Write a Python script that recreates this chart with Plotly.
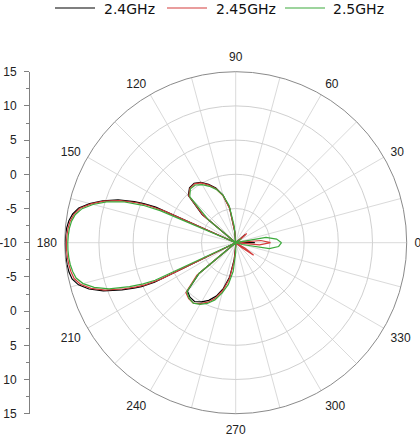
import plotly.graph_objects as go

THETA = [0, 5, 10, 15, 20, 25, 30, 35, 40, 45,
         50, 55, 60, 65, 70, 75, 80, 85, 90, 95,
         100, 105, 110, 115, 120, 125, 130, 135, 140, 145, 150,
         155, 156, 157, 158,
         160, 162.5, 165, 167.5, 170, 172.5, 175, 177.5, 180, 182.5,
         185, 187.5, 190, 192.5, 195, 197.5, 200,
         202.5, 204, 205, 206, 208,
         210, 215, 220, 225, 230, 235, 240, 245, 250, 255, 260, 265, 270, 275,
         280, 285, 290, 295, 300, 305, 310, 315,
         320, 325, 330, 335, 340, 345, 350, 355, 360]

# gain in dB, -10 = centre of the plot
GAIN_24 = [-7.2, -9.3, -10, -10, -10, -10, -10, -9.5, -8.2, -10,
           -10, -10, -10, -10, -10, -10, -10, -10, -10, -8.3,
           -4.8, -2.8, -1.5, -0.6, 0.2, 0.6, 0.5, -0.2, -3.6, -10, -10,
           -10, 2.8, 4.6, 6.0,
           8.3, 10.4, 12.1, 13.5, 14.2, 14.6, 14.8, 14.9, 14.95, 14.95,
           14.9, 14.85, 14.75, 14.5, 13.8, 12.5, 10.6,
           8.0, 6.3, 5.2, 3.2, -10,
           -10, -10, -3.0, 0.0, 0.4, 0.5, 0.0, -0.7, -1.7, -3.1, -4.9, -7.6, -9.6, -10,
           -10, -10, -10, -10, -10, -10, -10, -10,
           -10, -8.7, -10, -10, -10, -10, -10, -9.6, -7.2]

GAIN_245 = [-4.9, -6.3, -10, -10, -10, -10, -10, -9.3, -7.9, -10,
            -10, -10, -10, -10, -10, -10, -10, -10, -10, -8.4,
            -4.9, -2.9, -1.6, -0.7, 0.1, 0.5, 0.4, -0.3, -3.8, -10, -10,
            -10, 1.5, 4.0, 5.6,
            8.0, 10.2, 11.9, 13.3, 14.0, 14.4, 14.6, 14.7, 14.75, 14.75,
            14.7, 14.6, 14.45, 14.2, 13.5, 12.2, 10.3,
            7.6, 5.9, 4.6, 2.2, -10,
            -10, -10, -2.6, 0.3, 0.7, 0.8, 0.3, -0.4, -1.4, -2.8, -4.6, -7.3, -9.5, -10,
            -10, -10, -10, -10, -10, -10, -10, -10,
            -9.0, -6.8, -8.4, -10, -10, -10, -10, -6.5, -4.9]

GAIN_25 = [-3.3, -4.0, -5.5, -10, -10, -10, -10, -9.0, -9.6, -10,
           -10, -10, -10, -10, -10, -10, -10, -10, -10, -7.6,
           -4.5, -2.8, -1.7, -0.9, -0.2, 0.3, 0.3, -0.5, -4.8, -10, -10,
           -10, -10, 2.0, 4.6,
           7.5, 9.8, 11.6, 13.0, 13.8, 14.2, 14.4, 14.5, 14.55, 14.55,
           14.5, 14.4, 14.2, 13.9, 13.1, 11.7, 9.7,
           6.8, 4.8, 3.0, -10, -10,
           -10, -10, -3.0, 0.1, 0.6, 0.8, 0.4, -0.2, -1.1, -2.4, -3.8, -5.8, -8.6, -10,
           -10, -10, -10, -10, -10, -10, -10, -10,
           -10, -10, -10, -10, -10, -9.0, -5.0, -3.7, -3.3]

SERIES = ["2.4GHz", "2.45GHz", "2.5GHz"]
COLORS = ["#000000", "#d43c3c", "#3caa3c"]

ANGLE_TICKS = list(range(0, 360, 15))
ANGLE_LABELS = [str(a) if a % 30 == 0 else "" for a in ANGLE_TICKS]
RADIAL_GRID = [-5, 0, 5, 10]

# left scale mirrors the radius: top/bottom = 15, middle = -10
LEFT_TICKS = [25, 20, 15, 10, 5, 0, -5, -10, -15, -20, -25]
LEFT_LABELS = ["15", "10", "5", "0", "-5", "-10", "-5", "0", "5", "10", "15"]

W, H = 420, 438
cx, cy, rad = 235.7, 242.7, 171.0   # pixel centre / radius of the polar circle
px0, px1 = (cx - rad) / W, (cx + rad) / W
py0, py1 = (H - cy - rad) / H, (H - cy + rad) / H

fig = go.Figure()
for name, gain, col in zip(SERIES, [GAIN_24, GAIN_245, GAIN_25], COLORS):
    fig.add_trace(go.Scatterpolar(theta=THETA, r=gain, mode="lines", name=name,
                                  showlegend=False,
                                  line=dict(color=col, width=1.2)))

# empty trace just so the cartesian scale on the left gets drawn
fig.add_trace(go.Scatter(x=[None], y=[None], showlegend=False, hoverinfo="skip"))

# legend drawn by hand across the top (line sample + label)
leg_line_x = [55, 167, 285]
leg_text_x = [102, 214, 331]
for i, name in enumerate(SERIES):
    fig.add_shape(type="line", xref="paper", yref="paper",
                  x0=leg_line_x[i] / W, x1=(leg_line_x[i] + 40) / W,
                  y0=1 - 8 / H, y1=1 - 8 / H,
                  line=dict(color=COLORS[i], width=1.2))
    fig.add_annotation(text=name, xref="paper", yref="paper",
                       x=leg_text_x[i] / W, y=1 - 9 / H,
                       xanchor="left", yanchor="middle", showarrow=False,
                       font=dict(family="DejaVu Sans", size=14, color="#111"))

fig.update_layout(
    width=W, height=H,
    margin=dict(l=0, r=0, t=0, b=0, autoexpand=False),
    paper_bgcolor="white", plot_bgcolor="white",
    font=dict(family="Liberation Sans, Arial", size=12, color="#222"),
    polar=dict(
        domain=dict(x=[px0, px1], y=[py0, py1]),
        bgcolor="white",
        radialaxis=dict(range=[-10, 15], tickmode="array", tickvals=RADIAL_GRID,
                        showticklabels=False, ticks="", showline=False,
                        gridcolor="#d0d0d0", gridwidth=1),
        angularaxis=dict(rotation=0, direction="counterclockwise",
                         tickmode="array", tickvals=ANGLE_TICKS, ticktext=ANGLE_LABELS,
                         ticks="outside", ticklen=5, tickcolor="rgba(0,0,0,0)",
                         showline=True, linecolor="#8a8a8a", linewidth=1,
                         gridcolor="#dadada", gridwidth=1,
                         tickfont=dict(family="Liberation Sans, Arial", size=12, color="#222")),
    ),
    xaxis=dict(domain=[30 / W, 0.12], range=[0, 1], visible=False,
               fixedrange=True, automargin=False),
    yaxis=dict(domain=[py0, py1], range=[-25, 25], anchor="x", automargin=False,
               tickmode="array", tickvals=LEFT_TICKS, ticktext=LEFT_LABELS,
               ticks="outside", ticklen=5, tickcolor="#808080",
               showline=True, linecolor="#808080", linewidth=1,
               showgrid=False, zeroline=False, fixedrange=True,
               ticklabelstandoff=5,
               minor=dict(dtick=2.5, tick0=0, ticks="outside", ticklen=3,
                          tickcolor="#808080", showgrid=False),
               tickfont=dict(family="Liberation Sans, Arial", size=12, color="#222")),
)

# the page's default 8px body margin would shift the fixed-size figure
fig.write_html("out.html", config={"displayModeBar": False},
               post_script="document.body.style.margin='0';")
